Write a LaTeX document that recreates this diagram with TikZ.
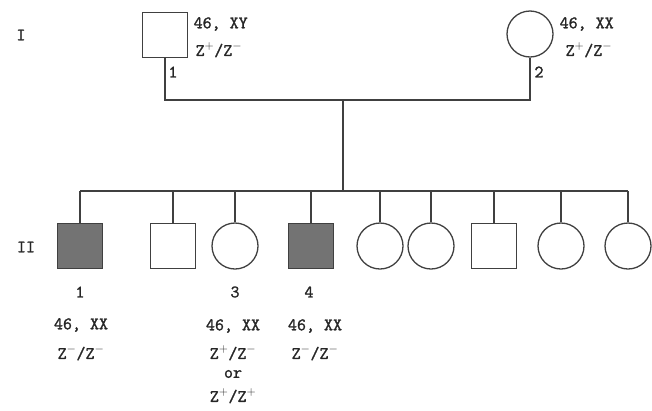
\documentclass[tikz,border=0pt]{standalone}
\usepackage{fontspec}
\setmonofont{Latin Modern Mono}[FakeBold=1.6]

\begin{document}
\begin{tikzpicture}[x=1pt,y=-1pt,line width=1.3pt,draw=black!75,
  male/.style={draw,rectangle,minimum size=45pt,inner sep=0pt},
  female/.style={draw,circle,minimum size=46pt,inner sep=0pt},
  affmale/.style={male,fill=black!55},
  lab/.style={font=\fontsize{17.5}{21}\selectfont\ttfamily\bfseries,inner sep=0pt,text=black!85}]
 \useasboundingbox (0,0) rectangle (652,410);
 % generation I
 \node[lab] (gI) at (21,35) {I};
 \node[male] (f1) at (165,35) {};
 \node[female] (f2) at (530,34) {};
 \node[lab,anchor=west] (k1) at (193,24) {46, XY};
 \node[lab,anchor=west] (z1) at (195,50) {Z$^+$/Z$^-$};
 \node[lab] (n1) at (173,72) {1};
 \node[lab,anchor=west] (k2) at (559,24) {46, XX};
 \node[lab,anchor=west] (z2) at (565,50) {Z$^+$/Z$^-$};
 \node[lab] (n2) at (539,72) {2};
 \coordinate (j1) at (165,100);
 \coordinate (j2) at (530,100);
 \coordinate (d1) at (343,100);
 \coordinate (d2) at (343,191);
 \draw (f1.south) -- (j1) -- (j2) -- (f2.south);
 \draw (d1) -- (d2);
 % generation II
 \node[lab] (gII) at (26,247) {II};
 \foreach \i/\x/\s in {1/80/affmale,2/173/male,3/235/female,4/311/affmale,
   5/380/female,6/431/female,7/494/male,8/561/female,9/628/female}{
   \node[\s] (c\i) at (\x,246) {};
   \coordinate (t\i) at (\x,191);
   \draw (t\i) -- (c\i.north);
 }
 \draw (t1) -- (t9);
 % karyotypes
 \node[lab] (m1) at (80,292) {1};
 \node[lab] (k3) at (81,325) {46, XX};
 \node[lab] (z3) at (81,353) {Z$^-$/Z$^-$};
 \node[lab] (m3) at (235,292) {3};
 \node[lab] (k4) at (233,326) {46, XX};
 \node[lab] (z4) at (233,353) {Z$^+$/Z$^-$};
 \node[lab] (or) at (233,374) {or};
 \node[lab] (z5) at (233,396) {Z$^+$/Z$^+$};
 \node[lab] (m4) at (309,292) {4};
 \node[lab] (k5) at (315,326) {46, XX};
 \node[lab] (z6) at (315,353) {Z$^-$/Z$^-$};
\end{tikzpicture}
\end{document}
